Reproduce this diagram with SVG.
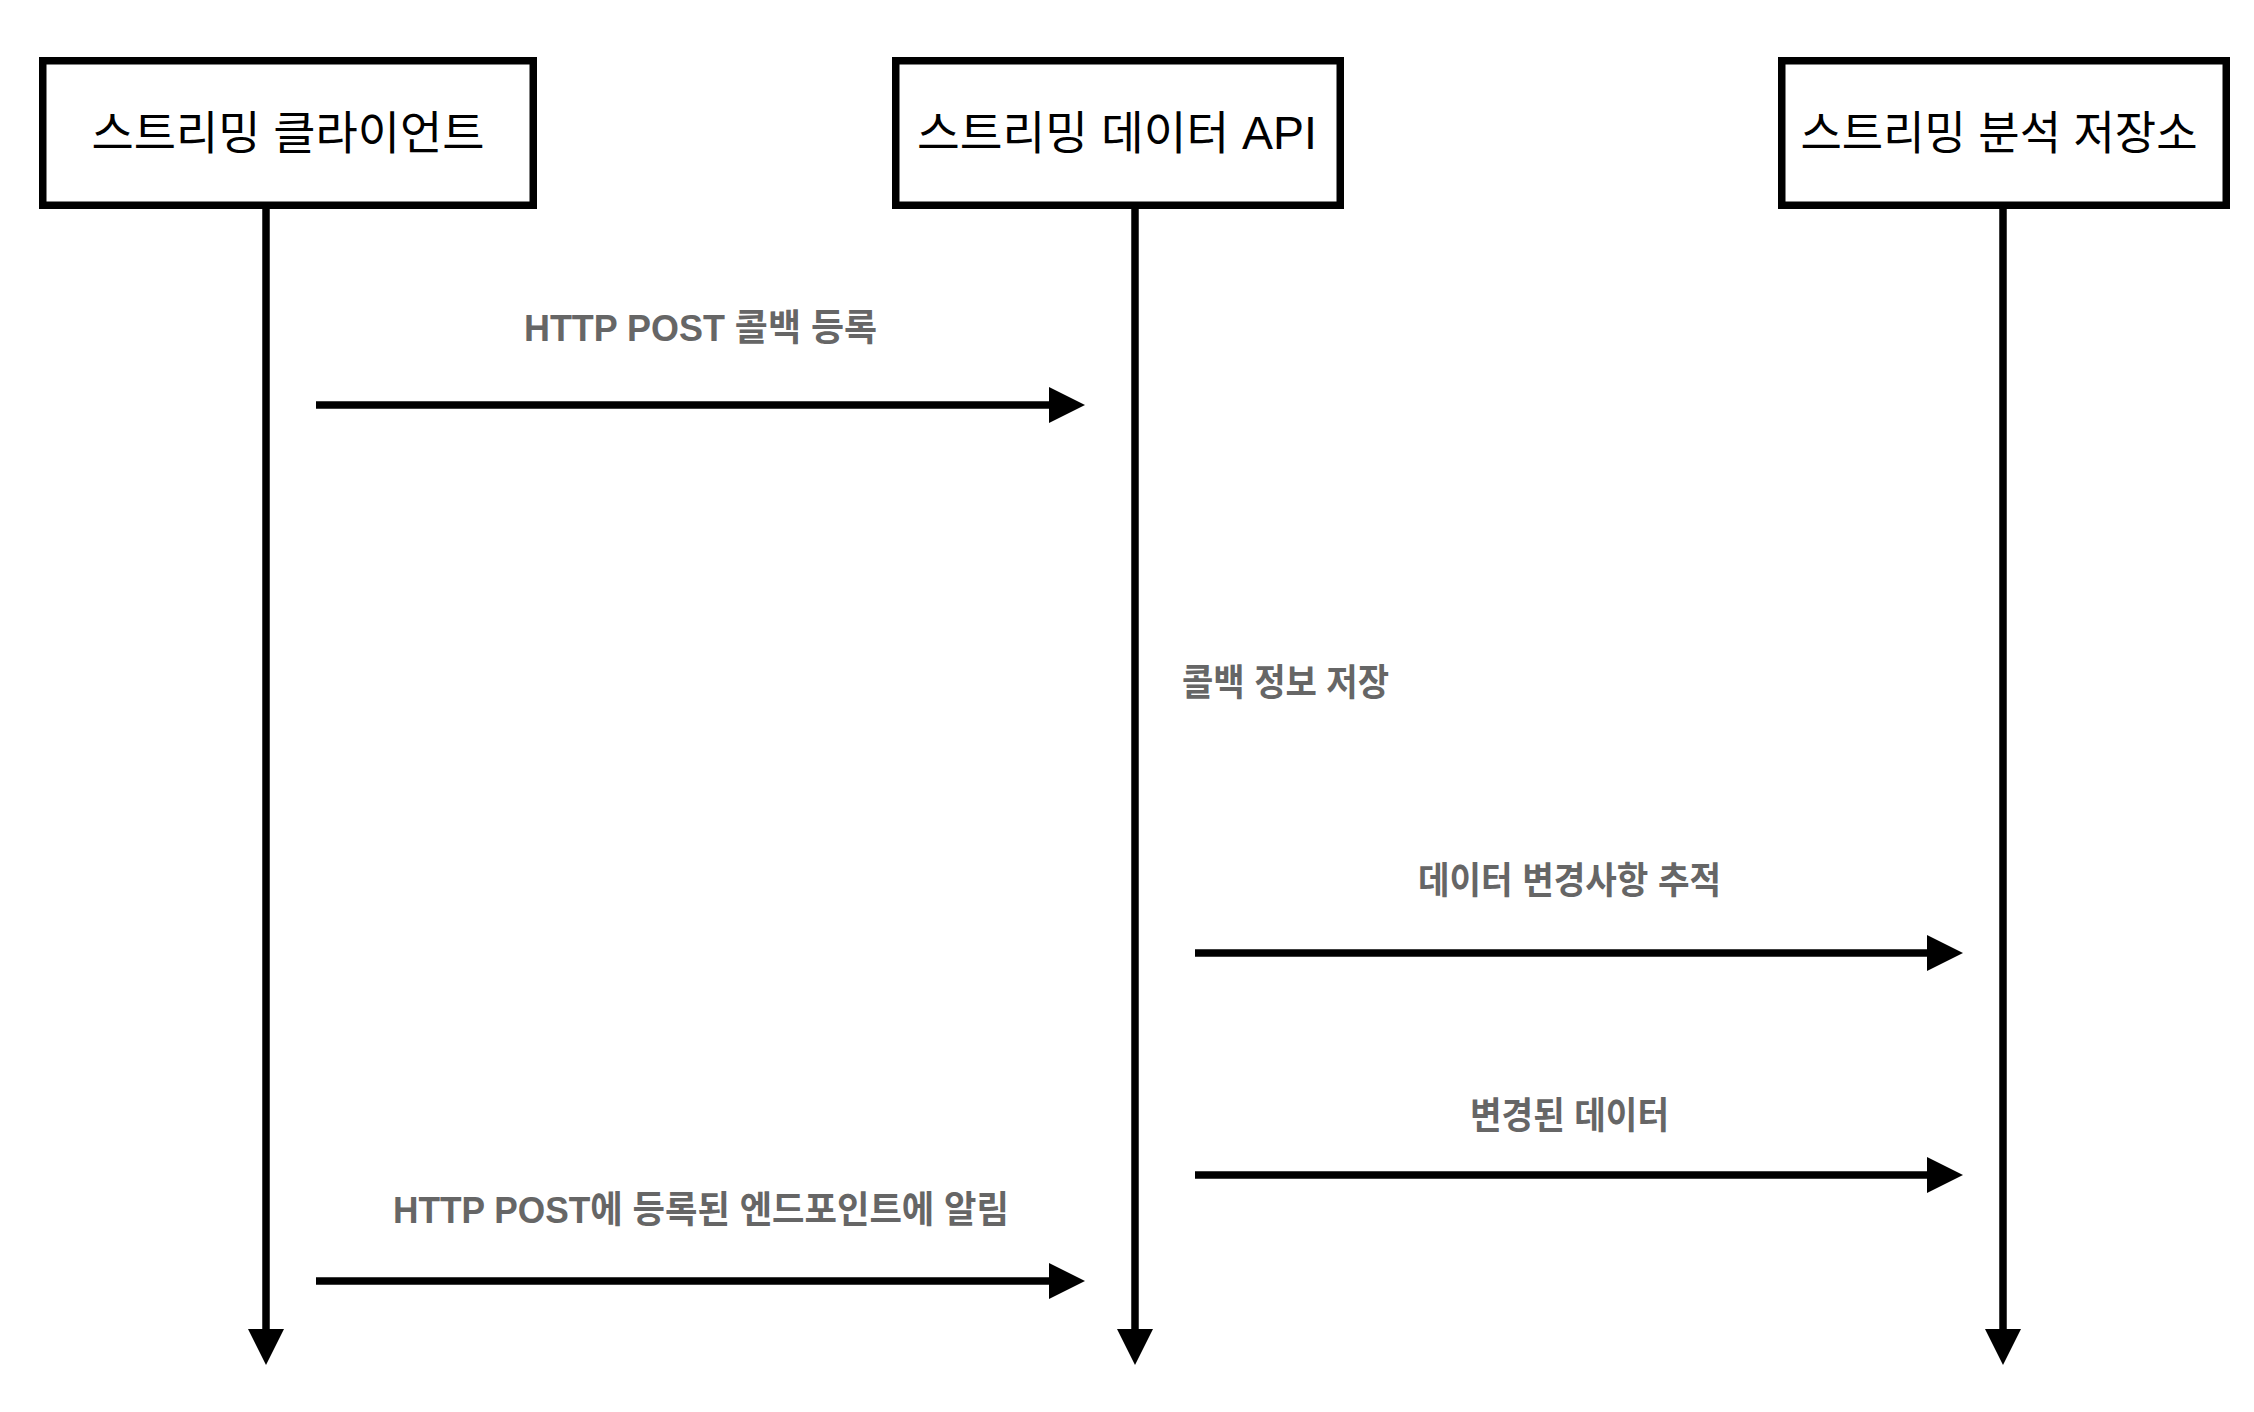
<svg xmlns="http://www.w3.org/2000/svg" width="2254" height="1412" viewBox="0 0 2254 1412">
<style>
.box{fill:#fff;stroke:#000;stroke-width:7.5}
.title{font-family:"Liberation Sans","Noto Sans CJK KR",sans-serif;font-size:46px;fill:#000;text-anchor:middle}
.lbl{font-family:"Liberation Sans","Noto Sans CJK KR",sans-serif;font-size:37px;font-weight:bold;fill:#666}
.ln{stroke:#000;stroke-width:7.5;fill:none}
</style>
<defs>
<marker id="ah" viewBox="0 0 36 36" markerUnits="userSpaceOnUse" markerWidth="36" markerHeight="36" refX="0" refY="18" orient="auto">
<path d="M0,0 L36,18 L0,36 z" fill="#000"/>
</marker>
</defs>
<rect width="2254" height="1412" fill="#fff"/>
<g id="connectors">
<line class="ln" x1="266" y1="209" x2="266" y2="1329" marker-end="url(#ah)"/>
<line class="ln" x1="1135" y1="209" x2="1135" y2="1329" marker-end="url(#ah)"/>
<line class="ln" x1="2003" y1="209" x2="2003" y2="1329" marker-end="url(#ah)"/>
<line class="ln" x1="316" y1="405" x2="1049" y2="405" marker-end="url(#ah)"/>
<line class="ln" x1="1195" y1="953" x2="1927" y2="953" marker-end="url(#ah)"/>
<line class="ln" x1="1195" y1="1175" x2="1927" y2="1175" marker-end="url(#ah)"/>
<line class="ln" x1="316" y1="1281" x2="1049" y2="1281" marker-end="url(#ah)"/>
<text class="lbl" x="524" y="341" textLength="353" lengthAdjust="spacingAndGlyphs">HTTP POST 콜백 등록</text>
<text class="lbl" x="1182" y="696" textLength="207" lengthAdjust="spacingAndGlyphs">콜백 정보 저장</text>
<text class="lbl" x="1418" y="894" textLength="303" lengthAdjust="spacingAndGlyphs">데이터 변경사항 추적</text>
<text class="lbl" x="1470" y="1129" textLength="199" lengthAdjust="spacingAndGlyphs">변경된 데이터</text>
<text class="lbl" x="393" y="1223" textLength="616" lengthAdjust="spacingAndGlyphs">HTTP POST에 등록된 엔드포인트에 알림</text>
</g>
<g id="node-client">
<rect class="box" x="42.75" y="60.75" width="490.5" height="144.5"/>
<text class="title" x="288" y="149" textLength="393" lengthAdjust="spacingAndGlyphs">스트리밍 클라이언트</text>
</g>
<g id="node-api">
<rect class="box" x="895.75" y="60.75" width="444.5" height="144.5"/>
<text class="title" x="1117" y="149" textLength="400" lengthAdjust="spacingAndGlyphs">스트리밍 데이터 API</text>
</g>
<g id="node-store">
<rect class="box" x="1781.75" y="60.75" width="444.5" height="144.5"/>
<text class="title" x="1999" y="149" textLength="397" lengthAdjust="spacingAndGlyphs">스트리밍 분석 저장소</text>
</g>
</svg>
